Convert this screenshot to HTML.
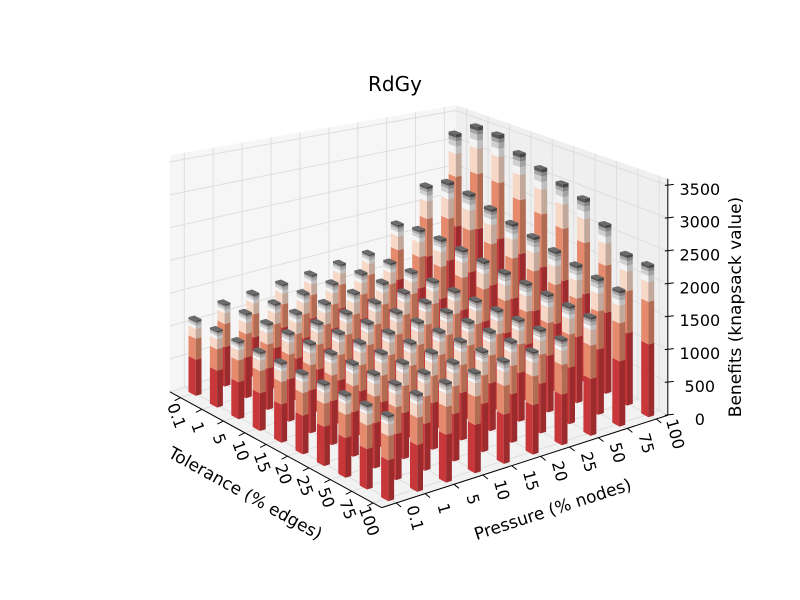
<!DOCTYPE html>
<html><head><meta charset="utf-8"><style>
html,body{margin:0;padding:0;background:#fff;}
svg{display:block;font-family:"DejaVu Sans","Liberation Sans",sans-serif;}
</style></head><body>
<svg id="chart" width="800" height="600" viewBox="0 0 800 600">
<rect width="800" height="600" fill="#fff"/>
<text x="395" y="91" font-size="20" text-anchor="middle">RdGy</text>
<g id="panes"></g>
<g id="bars"></g>
<g id="axes"></g>
</svg>
<script>
const tolLabels = ["0.1","1","5","10","15","20","25","50","75","100"];
const presLabels = ["0.1","1","5","10","15","20","25","50","75","100"];
const zTicks = [0,500,1000,1500,2000,2500,3000,3500];
// benefits[tolIndex][presIndex]
const row0 = [1140,1270,1300,1335,1360,1410,1450,1830,2380,3210];
const row1 = [1140,1280,1310,1345,1380,1420,1470,1900,2600,3480];
const row2 = [1130,1280,1320,1350,1390,1430,1480,1900,2550,3470];
const row3 = [1130,1285,1320,1355,1400,1435,1490,1880,2450,3280];
const row4 = [1125,1285,1325,1360,1405,1440,1495,1850,2350,3160];
const row5 = [1120,1290,1330,1365,1410,1445,1500,1820,2280,3040];
const row6 = [1120,1290,1330,1365,1415,1445,1505,1800,2200,2930];
const row7 = [1115,1290,1335,1370,1420,1450,1510,1780,2120,2650];
const row8 = [1115,1290,1335,1370,1420,1450,1512,1750,2060,2320];
const row9 = [1114,1290,1338,1373,1424,1450,1515,1733,2020,2300];
const benefits = [row0,row1,row2,row3,row4,row5,row6,row7,row8,row9];
const segFractions = [0.48,0.28,0.13,0.04,0.03,0.02,0.02];
const segColors = ['#c8373a','#e58a6c','#f7d7c6','#f4f4f4','#d0d0d0','#a6a6a6','#5a5a5a'];
const ZMAX = 3600;

const NS = "http://www.w3.org/2000/svg";
const Lx=195, Ly=393, ux=21.4, uy=11.7, vx=28.9, vy=-9.33, k=0.0657;
function P(i,j,z){
  const f = 1+0.018*(i-j);
  return [Lx+i*ux+j*vx, Ly+i*uy+j*vy - z*k*f];
}
function pts(a){return a.map(p=>p[0].toFixed(1)+","+p[1].toFixed(1)).join(" ");}
function shade(hex,f){
  const n=parseInt(hex.slice(1),16);
  const r=Math.round(((n>>16)&255)*f),g=Math.round(((n>>8)&255)*f),b=Math.round((n&255)*f);
  return `rgb(${r},${g},${b})`;
}
function mk(tag,attrs,parent){
  const e=document.createElementNS(NS,tag);
  for(const a in attrs) e.setAttribute(a,attrs[a]);
  parent.appendChild(e); return e;
}
const panes=document.getElementById('panes');
const axes=document.getElementById('axes');
const bars=document.getElementById('bars');
const lo=-0.5, hi=9.4;
let p;
p=mk('polygon',{points:pts([P(lo,lo,0),P(lo,hi,0),P(lo,hi,ZMAX),P(lo,lo,ZMAX)]),fill:'#f6f6f6'},panes);


p=mk('polygon',{points:pts([P(lo,hi,0),P(hi,hi,0),P(hi,hi,ZMAX),P(lo,hi,ZMAX)]),fill:'#efefef'},panes);


p=mk('polygon',{points:pts([P(lo,lo,0),P(hi,lo,0),P(hi,hi,0),P(lo,hi,0)]),fill:'#f2f2f2'},panes);


function gl(a,b){
  const l=mk('line',{x1:a[0],y1:a[1],x2:b[0],y2:b[1],stroke:'#dedede','stroke-width':1},panes);
  
  
}
for(let t=0;t<10;t++){
  gl(P(lo,t,0),P(lo,t,ZMAX)); gl(P(lo,t,0),P(hi,t,0));
  gl(P(t,hi,0),P(t,hi,ZMAX)); gl(P(t,lo,0),P(t,hi,0));
}
zTicks.forEach(z=>{gl(P(lo,lo,z),P(lo,hi,z)); gl(P(lo,hi,z),P(hi,hi,z));});
const wi=0.17, wj=0.1;
const order=[];
for(let i=0;i<10;i++)for(let j=0;j<10;j++)order.push([i,j]);
order.sort((a,b)=>(a[0]-a[1])-(b[0]-b[1]) || a[0]-b[0]);
order.forEach(([i,j])=>{
  const total=benefits[i][j];
  const g=mk('g',{},bars);
  
  
  let z0=0;
  const A=[i+wi,j-wj],B=[i-wi,j-wj],C=[i+wi,j+wj],D=[i-wi,j+wj];
  segFractions.forEach((fr,s)=>{
    const z1=z0+fr*total;
    const left=mk('polygon',{points:pts([P(B[0],B[1],z0),P(A[0],A[1],z0),P(A[0],A[1],z1),P(B[0],B[1],z1)]),fill:segColors[s]},g);
    
    
    const right=mk('polygon',{points:pts([P(A[0],A[1],z0),P(C[0],C[1],z0),P(C[0],C[1],z1),P(A[0],A[1],z1)]),fill:shade(segColors[s],0.78)},g);
    
    
    z0=z1;
  });
  const top=mk('polygon',{points:pts([P(A[0],A[1],z0),P(B[0],B[1],z0),P(D[0],D[1],z0),P(C[0],C[1],z0)]),fill:'#6a6a6a'},g);
  
  
});
function al(a,b,name){
  const l=mk('line',{x1:a[0],y1:a[1],x2:b[0],y2:b[1],stroke:'#000','stroke-width':1},axes);
  
  
}
al(P(lo,lo,0),P(hi,lo,0),'tolerance-axis-line');
al(P(hi,lo,0),P(hi,hi,0),'pressure-axis-line');
al(P(hi,hi,0),P(hi,hi,ZMAX),'z-axis-line');
function txt(x,y,s,rot,size,anchor,name){
  const t=mk('text',{x:x,y:y,'font-size':size,'text-anchor':anchor||'middle','dominant-baseline':'central'},axes);
  if(rot) t.setAttribute('transform',`rotate(${rot} ${x} ${y})`);
  t.textContent=s;
  
  
  return t;
}
tolLabels.forEach((s,i)=>{
  const a=P(i,lo,0);
  al(a,[a[0]-6,a[1]+3],'tolerance-tick');
  txt(a[0]-4,a[1]+18,s,70,16,'middle','tolerance-tick-label');
});
presLabels.forEach((s,j)=>{
  const a=P(hi,j,0);
  al(a,[a[0]+5,a[1]+4],'pressure-tick');
  txt(a[0]+19,a[1]+15,s,75,16,'middle','pressure-tick-label');
});
zTicks.forEach(z=>{
  const a=P(hi,hi,z);
  al([a[0]-3,a[1]],[a[0]+6,a[1]-1],'z-tick');
  txt(a[0]+32,a[1]+4,String(z),0,16,'middle','z-tick-label');
});
txt(245,494,"Tolerance (% edges)",29,17,'middle','tolerance-axis-title');
txt(553,510,"Pressure (% nodes)",-18,17,'middle','pressure-axis-title');
txt(736,307,"Benefits (knapsack value)",-90,17,'middle','z-axis-title');
</script>
</body></html>
